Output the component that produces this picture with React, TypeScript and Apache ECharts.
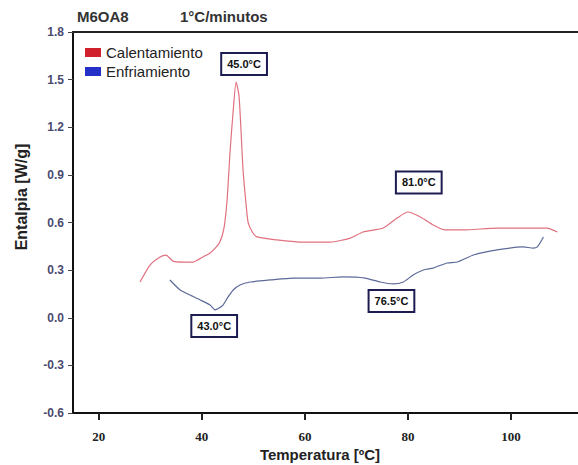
import React, { useEffect, useRef } from "react";
import * as echarts from "echarts";

// Calentamiento (heating) curve
const heatTemps = [28.0, 29.95, 31.9, 33.06, 34.4, 36.4, 38.3, 40.2, 41.6, 42.6, 43.5, 44.3, 44.9, 45.5, 46.1, 46.65, 47.2, 47.6, 48.0, 48.6, 49.0, 49.8, 50.7, 54.6, 59.1, 64.9, 68.8, 71.3, 75.2, 77.9, 80.0, 82.4, 84.9, 87.2, 90.7, 97.3, 103.7, 107.0, 109.0];
const heatValues = [0.225, 0.332, 0.383, 0.395, 0.357, 0.351, 0.351, 0.383, 0.408, 0.439, 0.477, 0.565, 0.742, 1.057, 1.309, 1.485, 1.403, 1.183, 0.931, 0.71, 0.597, 0.54, 0.509, 0.49, 0.477, 0.477, 0.502, 0.54, 0.565, 0.628, 0.666, 0.635, 0.584, 0.553, 0.553, 0.565, 0.565, 0.565, 0.54];

// Enfriamiento (cooling) curve
const coolTemps = [33.8, 35.8, 37.7, 39.7, 41.6, 42.6, 43.35, 44.1, 45.1, 46.1, 47.4, 49.4, 53.3, 57.7, 63.0, 67.4, 71.7, 74.6, 77.1, 79.1, 81.0, 83.0, 84.9, 87.6, 89.6, 92.7, 97.3, 102.4, 104.3, 105.1, 106.3];
const coolValues = [0.238, 0.175, 0.143, 0.112, 0.08, 0.049, 0.061, 0.08, 0.131, 0.175, 0.206, 0.225, 0.238, 0.25, 0.25, 0.257, 0.25, 0.225, 0.213, 0.225, 0.269, 0.301, 0.313, 0.345, 0.351, 0.395, 0.427, 0.446, 0.439, 0.446, 0.509];

// Peak annotations
const heatPeakLabels = ["45.0°C", "81.0°C"];
const heatPeakCoords = [[48.2, 1.598], [82.1, 0.852]];
const coolPeakLabels = ["43.0°C", "76.5°C"];
const coolPeakCoords = [[42.4, -0.052], [76.8, 0.105]];

const xTicks = [20, 40, 60, 80, 100];
const seriesNames = ["Calentamiento", "Enfriamiento"];

const boxLabel = {
  show: true,
  formatter: "{b}",
  color: "#111",
  fontFamily: "Liberation Sans",
  fontWeight: "bold" as const,
  fontSize: 11,
  backgroundColor: "#fff",
  borderColor: "#1c1c50",
  borderWidth: 2,
  padding: [5, 5, 4, 5],
};

export default function App() {
  const ref = useRef<HTMLDivElement>(null);
  useEffect(() => {
    if (!ref.current) return;
    const chart = echarts.init(ref.current, undefined, { renderer: "svg" });
    const mkMarks = (labels: string[], coords: number[][]) => ({
      symbol: "rect",
      symbolSize: 1,
      itemStyle: { color: "rgba(0,0,0,0)" },
      label: boxLabel,
      data: labels.map((l, i) => ({ name: l, coord: coords[i] })),
    });
    chart.setOption({
      animation: false,
      backgroundColor: "#fff",
      grid: { left: 73, right: 0, top: 32, bottom: 52 },
      legend: {
        orient: "vertical",
        left: 80,
        top: 40,
        itemWidth: 16,
        itemHeight: 9,
        itemGap: 4,
        icon: "rect",
        textStyle: { fontSize: 15, fontFamily: "Liberation Sans", color: "#222" },
        data: [
          { name: seriesNames[0], itemStyle: { color: "#d0202c" } },
          { name: seriesNames[1], itemStyle: { color: "#2430c8" } },
        ],
      },
      graphic: [
        { type: "text", left: 77, top: 9, style: { text: "M6OA8", fontSize: 15, fontWeight: "bold", fontFamily: "Liberation Sans", fill: "#333" } },
        { type: "text", left: 180, top: 9, style: { text: "1°C/minutos", fontSize: 15, fontWeight: "bold", fontFamily: "Liberation Sans", fill: "#333" } },
        {
          type: "text",
          x: 21,
          y: 197,
          rotation: Math.PI / 2,
          style: { text: "Entalpia [W/g]", fontSize: 16, fontWeight: "bold", fontFamily: "Liberation Sans", fill: "#222", align: "center", verticalAlign: "middle" },
        },
        {
          type: "text",
          x: 320,
          y: 454,
          style: { text: "Temperatura [ºC]", fontSize: 15, fontWeight: "bold", fontFamily: "Liberation Sans", fill: "#222", align: "center", verticalAlign: "middle" },
        },
      ],
      xAxis: [
        {
          type: "value",
          min: 15,
          max: 113,
          splitLine: { show: false },
          axisLine: { onZero: false, lineStyle: { color: "#111", width: 2 } },
          axisTick: { show: true, length: 7, customValues: xTicks, lineStyle: { color: "#222", width: 2 } },
          axisLabel: {
            customValues: xTicks,
            margin: 17,
            fontFamily: "Liberation Serif",
            fontWeight: "bold",
            fontSize: 13,
            color: "#222",
          },
        },
        {
          type: "value",
          position: "top",
          min: 15,
          max: 113,
          splitLine: { show: false },
          axisLine: { show: true, onZero: false, lineStyle: { color: "#222", width: 2 } },
          axisTick: { show: false },
          axisLabel: { show: false },
        },
      ],
      yAxis: {
        type: "value",
        min: -0.6,
        max: 1.8,
        interval: 0.3,
        splitLine: { show: false },
        axisLine: { show: true, onZero: false, lineStyle: { color: "#111", width: 2 } },
        axisTick: { show: true, length: 5, lineStyle: { color: "#444" } },
        axisLabel: {
          formatter: (v: number) => v.toFixed(1),
          margin: 9,
          fontFamily: "Liberation Sans",
          fontWeight: "bold",
          fontSize: 12,
          color: "#4a4a70",
        },
      },
      series: [
        {
          name: seriesNames[0],
          type: "line",
          showSymbol: false,
          smooth: 0.2,
          lineStyle: { color: "#e0707e", width: 1.2 },
          itemStyle: { color: "#d0202c" },
          data: heatTemps.map((t, i) => [t, heatValues[i]]),
          markPoint: mkMarks(heatPeakLabels, heatPeakCoords),
        },
        {
          name: seriesNames[1],
          type: "line",
          showSymbol: false,
          smooth: 0.2,
          lineStyle: { color: "#5d6a98", width: 1.2 },
          itemStyle: { color: "#2430c8" },
          data: coolTemps.map((t, i) => [t, coolValues[i]]),
          markPoint: mkMarks(coolPeakLabels, coolPeakCoords),
        },
      ],
    });
    return () => chart.dispose();
  }, []);
  return <div ref={ref} style={{ position: "fixed", left: 0, top: 0, width: 578, height: 465 }} />;
}
